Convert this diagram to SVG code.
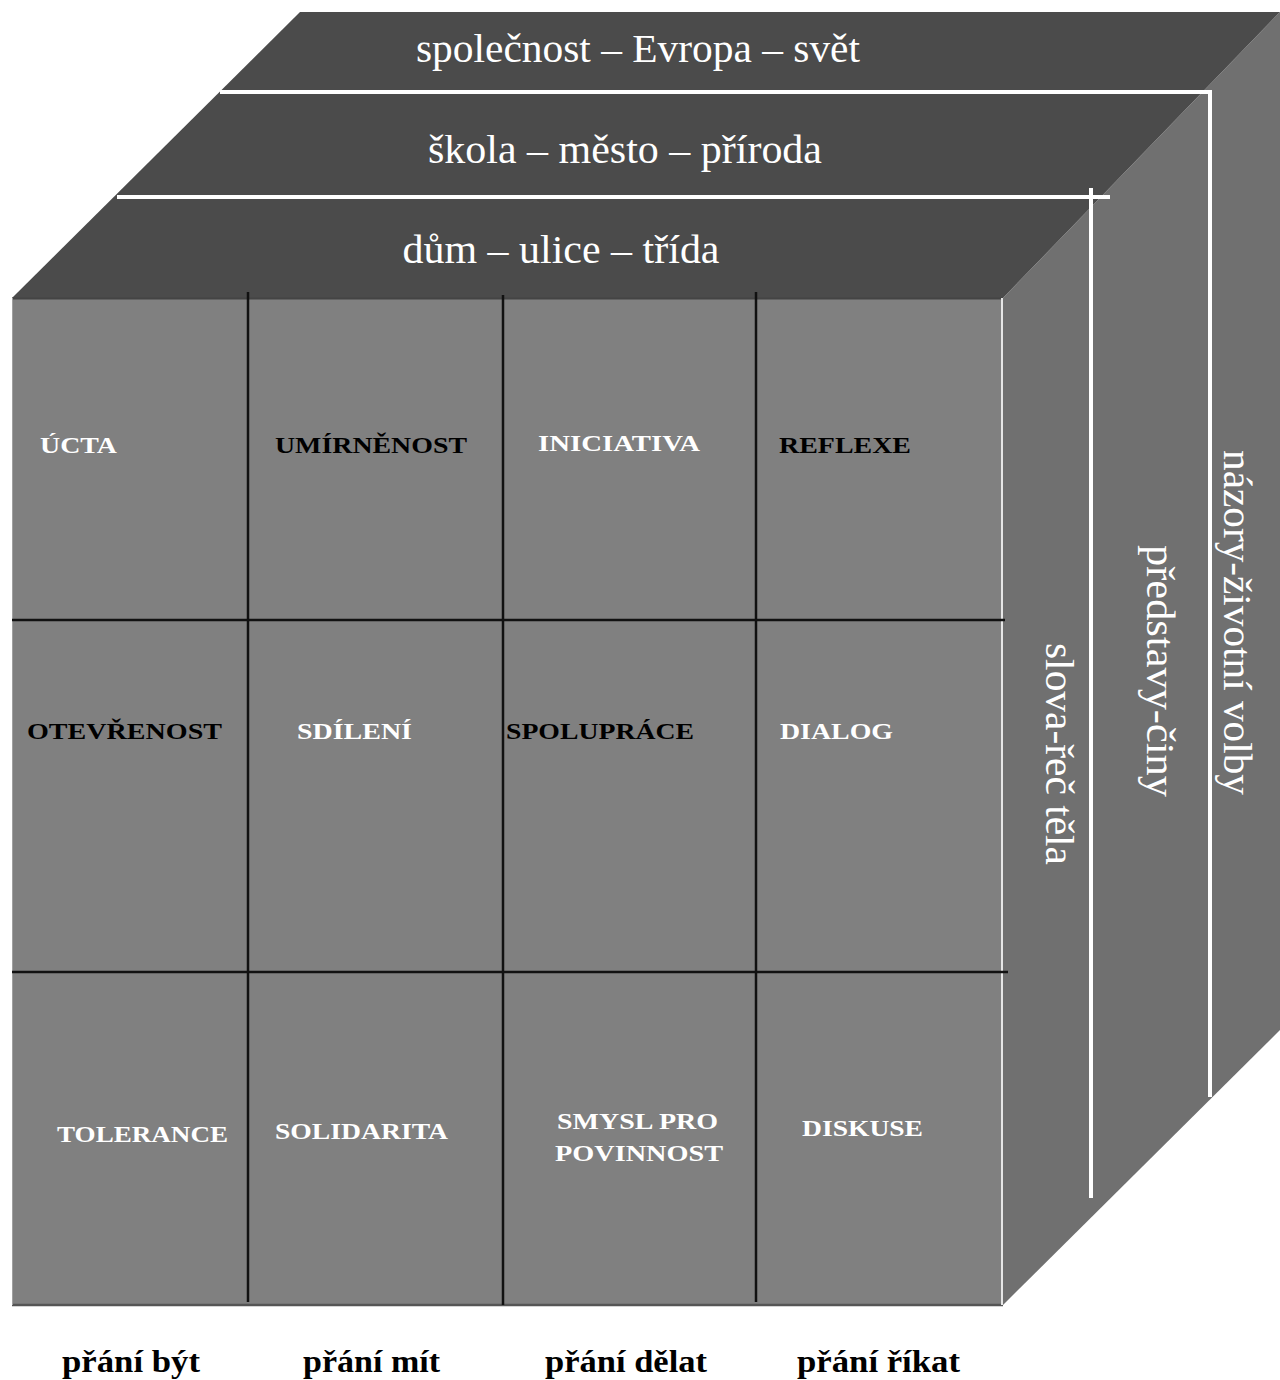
<svg xmlns="http://www.w3.org/2000/svg" width="1280" height="1380" viewBox="0 0 1280 1380">
<style>
.top{font-family:"Liberation Serif","Times New Roman",serif;font-size:40px;fill:#ffffff;}
.side{font-family:"Liberation Serif","Times New Roman",serif;font-size:40px;fill:#ffffff;}
.cell{font-family:"Liberation Serif","Times New Roman",serif;font-size:24px;font-weight:bold;}
.w{fill:#ffffff;}
.b{fill:#000000;}
.bot{font-family:"Liberation Serif","Times New Roman",serif;font-size:32px;font-weight:bold;fill:#000000;}
.grid{stroke:#111111;stroke-width:2.5;fill:none;}
.wl{stroke:#ffffff;stroke-width:4;fill:none;}
</style>
<rect width="1280" height="1380" fill="#ffffff"/>
<g id="right-face">
<polygon points="1003,298 1280,12 1280,1030 1003,1305" fill="#707070"/>
</g>
<g id="top-face">
<polygon points="300,12 1280,12 1003,298 12,298" fill="#4b4b4b"/>
</g>
<g id="front-face">
<rect x="12" y="298" width="991" height="1007" fill="#808080"/>
<line x1="12" y1="298.5" x2="1003" y2="298.5" stroke="#444444" stroke-width="2"/>
<line x1="12" y1="1305" x2="1003" y2="1305" stroke="#555555" stroke-width="2.5"/>
<line x1="1002" y1="298" x2="1002" y2="1305" stroke="#e6e6e6" stroke-width="2"/>
<line x1="12.5" y1="298" x2="12.5" y2="1305" stroke="#a0a0a0" stroke-width="1"/>
</g>
<g id="connectors">
<line class="grid" x1="248" y1="292" x2="248" y2="1302"/>
<line class="grid" x1="503" y1="295" x2="503" y2="1305"/>
<line class="grid" x1="756" y1="292" x2="756" y2="1302"/>
<line class="grid" x1="12" y1="620" x2="1005" y2="620"/>
<line class="grid" x1="12" y1="972" x2="1008" y2="972"/>
<polyline class="wl" points="220,92 1210,92 1210,1097"/>
<line class="wl" x1="117" y1="197" x2="1110" y2="197"/>
<line class="wl" x1="1091" y1="188" x2="1091" y2="1198"/>
</g>
<g id="layer-labels">
<text class="top" x="638" y="62" text-anchor="middle" textLength="444" lengthAdjust="spacingAndGlyphs">společnost – Evropa – svět</text>
<text class="top" x="625" y="163" text-anchor="middle" textLength="394" lengthAdjust="spacingAndGlyphs">škola – město – příroda</text>
<text class="top" x="561" y="263" text-anchor="middle" textLength="317" lengthAdjust="spacingAndGlyphs">dům – ulice – třída</text>
</g>
<g id="side-labels">
<text class="side" transform="translate(1224,450) rotate(90)" x="0" y="0" textLength="345" lengthAdjust="spacingAndGlyphs">názory-životní volby</text>
<text class="side" transform="translate(1147,545) rotate(90)" x="0" y="0" textLength="252" lengthAdjust="spacingAndGlyphs">představy-činy</text>
<text class="side" transform="translate(1046,643) rotate(90)" x="0" y="0" textLength="222" lengthAdjust="spacingAndGlyphs">slova-řeč těla</text>
</g>
<g id="cell-ucta"><text class="cell w" x="40" y="453" textLength="77" lengthAdjust="spacingAndGlyphs">ÚCTA</text></g>
<g id="cell-umirnenost"><text class="cell b" x="275" y="453" textLength="192" lengthAdjust="spacingAndGlyphs">UMÍRNĚNOST</text></g>
<g id="cell-iniciativa"><text class="cell w" x="538" y="451" textLength="162" lengthAdjust="spacingAndGlyphs">INICIATIVA</text></g>
<g id="cell-reflexe"><text class="cell b" x="779" y="453" textLength="132" lengthAdjust="spacingAndGlyphs">REFLEXE</text></g>
<g id="cell-otevrenost"><text class="cell b" x="27" y="739" textLength="195" lengthAdjust="spacingAndGlyphs">OTEVŘENOST</text></g>
<g id="cell-sdileni"><text class="cell w" x="297" y="739" textLength="115" lengthAdjust="spacingAndGlyphs">SDÍLENÍ</text></g>
<g id="cell-spoluprace"><text class="cell b" x="506" y="739" textLength="188" lengthAdjust="spacingAndGlyphs">SPOLUPRÁCE</text></g>
<g id="cell-dialog"><text class="cell w" x="780" y="739" textLength="113" lengthAdjust="spacingAndGlyphs">DIALOG</text></g>
<g id="cell-tolerance"><text class="cell w" x="57" y="1142" textLength="171" lengthAdjust="spacingAndGlyphs">TOLERANCE</text></g>
<g id="cell-solidarita"><text class="cell w" x="275" y="1139" textLength="173" lengthAdjust="spacingAndGlyphs">SOLIDARITA</text></g>
<g id="cell-smysl"><text class="cell w" x="557" y="1129" textLength="161" lengthAdjust="spacingAndGlyphs">SMYSL PRO</text><text class="cell w" x="555" y="1161" textLength="168" lengthAdjust="spacingAndGlyphs">POVINNOST</text></g>
<g id="cell-diskuse"><text class="cell w" x="802" y="1136" textLength="121" lengthAdjust="spacingAndGlyphs">DISKUSE</text></g>
<g id="bottom-labels">
<text class="bot" x="62" y="1372" textLength="138" lengthAdjust="spacingAndGlyphs">přání být</text>
<text class="bot" x="303" y="1372" textLength="137" lengthAdjust="spacingAndGlyphs">přání mít</text>
<text class="bot" x="545" y="1372" textLength="162" lengthAdjust="spacingAndGlyphs">přání dělat</text>
<text class="bot" x="797" y="1372" textLength="163" lengthAdjust="spacingAndGlyphs">přání říkat</text>
</g>
</svg>
